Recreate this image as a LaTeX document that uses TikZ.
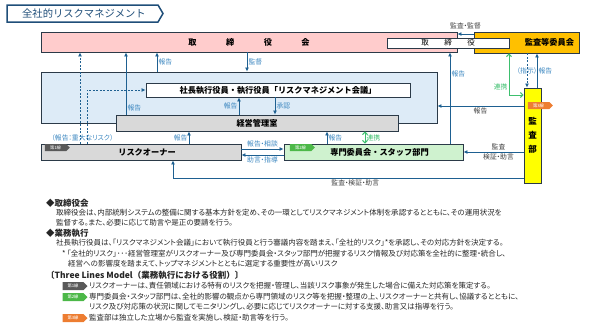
\documentclass[tikz,border=0pt]{standalone}
\usepackage{fontspec}
\setmainfont{Noto Sans CJK JP}[RawFeature=+palt]
\newfontfamily\hdfont{Noto Sans CJK JP}
\usepackage{tikz}
\usetikzlibrary{positioning,arrows.meta,shapes.symbols}
\definecolor{ttlblue}{HTML}{1F4E79}
\definecolor{edge}{HTML}{2B3A48}
\definecolor{arrowblue}{HTML}{1E6091}
\definecolor{lblblue}{HTML}{3C87C0}
\definecolor{lbldark}{HTML}{404040}
\definecolor{linkgreen}{HTML}{3DBF6E}
\definecolor{boardpink}{HTML}{FFCCCC}
\definecolor{execblue}{HTML}{DDEBF7}
\definecolor{boxgray}{HTML}{D9D9D9}
\definecolor{staffgreen}{HTML}{CFF2CF}
\definecolor{acorange}{HTML}{FFC000}
\definecolor{auyellow}{HTML}{FFFF00}
\definecolor{tagone}{HTML}{595959}
\definecolor{tagtwo}{HTML}{4CB848}
\definecolor{tagthree}{HTML}{ED7D31}
\definecolor{bodytext}{HTML}{262626}

\begin{document}
\begin{tikzpicture}[
  x=1pt, y=-1pt,
  box/.style={draw=edge, line width=0.9pt, inner sep=0pt, font=\hdfont\fontsize{8.2}{9}\selectfont\bfseries},
  arr/.style={-{Latex[length=4pt,width=4pt]}, line width=1pt, draw=arrowblue},
  darr/.style={arr, dash pattern=on 2pt off 1.5pt},
  garr/.style={{Straight Barb[length=2.5pt,width=5pt]}-{Straight Barb[length=2.5pt,width=5pt]}, line width=1pt, draw=linkgreen},
  lbl/.style={font=\fontsize{6.8}{7}\selectfont, text=lblblue, inner sep=1pt},
  lbldk/.style={lbl, text=lbldark},
  lblgr/.style={lbl, text=linkgreen},
  tagbox/.style={signal, signal to=east, text=white, font=\fontsize{4.3}{5}\selectfont, inner sep=0.6pt, minimum height=7pt, minimum width=25pt},
  txt/.style={anchor=west, inner sep=0pt, font=\fontsize{7.5}{8}\selectfont, text=bodytext},
  hd/.style={txt, font=\hdfont\fontsize{8.5}{9}\selectfont\bfseries},
]
  \useasboundingbox (0,0) rectangle (602,335);

  \draw[draw=ttlblue, line width=1.5pt, fill=white] (7,5) -- (158,5) -- (163,13.5) -- (158,22) -- (7,22) -- cycle;
  \node[font=\hdfont\fontsize{10.3}{11}\selectfont, text=ttlblue] (title) at (84,13.5) {全社的リスクマネジメント};

  \node[box, fill=boardpink, minimum width=416pt, minimum height=20pt] (board) at (249,42) {取\hspace{29.5pt}締\hspace{29.5pt}役\hspace{29.5pt}会};
  \node[box, fill=acorange, minimum width=105pt, minimum height=21pt, text width=95pt, align=right] (acom) at (526.5,42.5) {監査等委員会};
  \node[box, fill=white, minimum width=122pt, minimum height=10pt, font=\hdfont\fontsize{7.5}{8}\selectfont] (bdsub) at (448,43) {取\hspace{15.5pt}締\hspace{15.5pt}役};

  \node[box, fill=execblue, minimum width=396pt, minimum height=51pt] (exec) at (239,97.5) {};
  \node[box, fill=white, minimum width=264pt, minimum height=14pt] (pres) at (278,90) {社長執行役員・執行役員「リスクマネジメント会議」\hspace{24pt}};
  \node[box, fill=boxgray, minimum width=282pt, minimum height=16pt] (mgmt) at (257,123) {経営管理室};
  \node[box, fill=boxgray, minimum width=200pt, minimum height=16pt] (owner) at (141,152) {\hspace{12pt}リスクオーナー};
  \node[box, fill=staffgreen, minimum width=179pt, minimum height=16pt] (staff) at (373.5,152) {\hspace{12pt}専門委員会・スタッフ部門};
  \node[box, fill=auyellow, minimum width=17pt, minimum height=95pt, align=center, font=\hdfont\fontsize{8.5}{14}\selectfont\bfseries] (audit) at (532.5,135.5) {監\\査\\部};

  \node[tagbox, fill=tagone] (tag1) at (55.5,147.5) {第1線};
  \node[tagbox, fill=tagtwo] (tag2) at (300.5,147.5) {第2線};
  \node[tagbox, fill=tagthree] (tag3) at (538.5,105.5) {第3線};

  \draw[arr] (acom.west |- 0,34) -- node[lbldk, above=3pt] {監査・監督} (board.east |- 0,34);
  \draw[darr] (owner.north -| 80,0) -- (board.south -| 80,0);
  \draw[darr] (owner.north -| 87,0) |- (pres.west);
  \node[lbl] (major) at (82.5,138) {（報告：重大なリスク）};
  \draw[arr] (mgmt.north -| 126,0) -- node[lbl, right, pos=0.11] {報告} (board.south -| 126,0);
  \draw[arr] (exec.north -| 157,0) -- node[lbl, right] {報告} (board.south -| 157,0);
  \draw[arr] (board.south -| 247,0) -- node[lbl, right] {監督} (exec.north -| 247,0);
  \draw[arr] (mgmt.north -| 239,0) -- node[lbl, left] {報告} (pres.south -| 239,0);
  \draw[arr] (pres.south -| 275,0) -- node[lbl, right] {承認} (mgmt.north -| 275,0);
  \draw[arr] (owner.north -| 189,0) -- node[lbl, left] {報告} (mgmt.south -| 189,0);
  \draw[arr] (owner.east |- 0,149) -- node[lbl, above] {報告・相談} (staff.west |- 0,149);
  \draw[arr] (staff.west |- 0,155) -- node[lbl, below] {助言・指導} (owner.east |- 0,155);
  \draw[arr] (staff.north -| 327,0) -- node[lbl, right] {報告} (mgmt.south -| 327,0);
  \draw[garr] (mgmt.south -| 365,0) -- node[lblgr, right] {連携} (staff.north -| 365,0);
  \draw[arr] (staff.north -| 450,0) -- node[lbl, right, pos=0.76] {報告} (board.south -| 450,0);
  \draw[arr] (audit.west |- 0,106) -- node[lbldk, below] {報告} (exec.east |- 0,106);
  \draw[arr] (audit.west |- 0,152) -- node[lbldk, align=center, xshift=5pt, font=\fontsize{6.8}{10}\selectfont] {監査\\検証・助言} (staff.east |- 0,152);
  \draw[arr] (audit.west |- 0,178) -| node[lbldk, below, pos=0.24] {監査・検証・助言} (owner.south -| 173,0);
  \draw[darr] (acom.south -| 527,0) -- node[lbl] {（指示）} (audit.north -| 527,0);
  \draw[arr] (audit.north -| 537,0) -- node[lbl, right] {報告} (acom.south -| 537,0);
  \draw[garr] (acom.south -| 509,0) |- node[lblgr, left, pos=0.4] {連携} (audit.west |- 0,95);

  \node[hd] (h1) at (46,203) {◆取締役会};
  \node[txt] (p1) at (56,213) {取締役会は、内部統制システムの整備に関する基本方針を定め、その一環としてリスクマネジメント体制を承認するとともに、その運用状況を};
  \node[txt] (p2) at (56,223) {監督する。また、必要に応じて助言や是正の要請を行う。};
  \node[hd] (h2) at (46,233) {◆業務執行};
  \node[txt] (p3) at (56,243) {社長執行役員は、「リスクマネジメント会議」において執行役員と行う審議内容を踏まえ、「全社的リスク」*を承認し、その対応方針を決定する。};
  \node[txt] (p4) at (62,253.5) {*\hspace{1.5pt}「全社的リスク」･･･経営管理室がリスクオーナー及び専門委員会・スタッフ部門が把握するリスク情報及び対応策を全社的に整理・統合し、};
  \node[txt] (p5) at (68,263.5) {経営への影響度を踏まえて、トップマネジメントとともに選定する重要性が高いリスク};
  \node[hd] (h3) at (46,275) {〔Three Lines Model（業務執行における役割）〕};
  \node[tagbox, fill=tagone, minimum height=8pt] (line1) at (73,286) {第1線};
  \node[tagbox, fill=tagtwo, minimum height=8pt] (line2) at (73,297) {第2線};
  \node[tagbox, fill=tagthree, minimum height=8pt] (line3) at (73,318) {第3線};
  \node[txt] (l1) at (89,286) {リスクオーナーは、責任領域における特有のリスクを把握・管理し、当該リスク事象が発生した場合に備えた対応策を策定する。};
  \node[txt] (l2) at (89,297) {専門委員会・スタッフ部門は、全社的影響の観点から専門領域のリスク等を把握・整理の上、リスクオーナーと共有し、協議するとともに、};
  \node[txt] (l3) at (89,307) {リスク及び対応策の状況に関してモニタリングし、必要に応じてリスクオーナーに対する支援、助言又は指導を行う。};
  \node[txt] (l4) at (89,318) {監査部は独立した立場から監査を実施し、検証・助言等を行う。};
\end{tikzpicture}
\end{document}
